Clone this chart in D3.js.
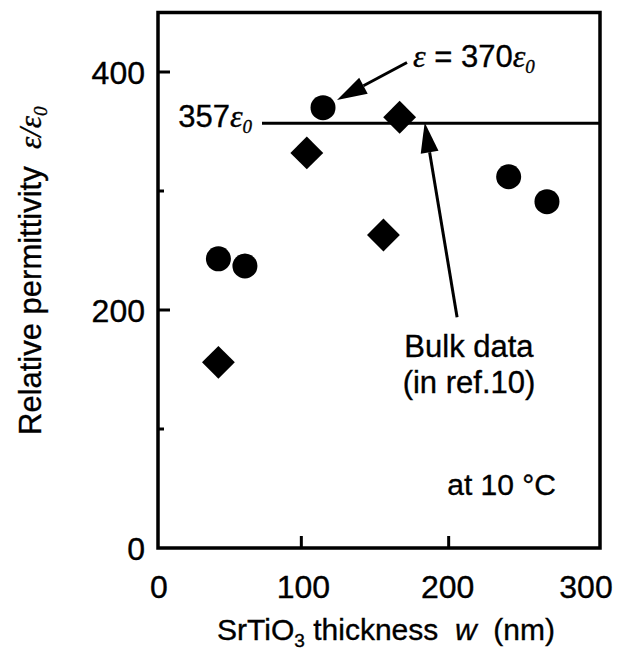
<!DOCTYPE html>
<html lang="en">
<head>
    <meta charset="UTF-8">
    <title>Relative permittivity vs SrTiO3 thickness</title>
    <script src="https://d3js.org/d3.v7.min.js"></script>
    <style>
        body {
            margin: 0;
            background: white;
            font-family: "Liberation Sans", Arial, sans-serif;
        }
        text { white-space: pre; stroke: black; stroke-width: 0.35px; }
        .eps { font-family: "Liberation Serif", serif; font-style: italic; }
    </style>
</head>
<body>
    <div id="chart"></div>
    <script>
        // data
        const circleW = [41, 59, 112, 238, 264];
        const circleEps = [243, 237, 370, 312, 291];
        const diamondW = [41, 101, 153, 164];
        const diamondEps = [156, 332, 263, 362];
        const bulkValue = 357;
        const xTicks = [0, 100, 200, 300];
        const yTicks = [0, 200, 400];
        const yMinorTicks = [100, 300];

        const width = 633, height = 657;
        const x = d3.scaleLinear().domain([0, 300]).range([158, 600]);
        const y = d3.scaleLinear().domain([0, 450]).range([548, 12.5]);

        const svg = d3.select("#chart").append("svg")
            .attr("width", width)
            .attr("height", height);

        // frame
        svg.append("rect")
            .attr("x", x(0)).attr("y", y(450))
            .attr("width", x(300) - x(0)).attr("height", y(0) - y(450))
            .attr("fill", "none").attr("stroke", "black").attr("stroke-width", 3.5);

        // ticks (inward)
        svg.selectAll(".xtick").data(xTicks.slice(1, 3)).enter().append("line")
            .attr("x1", d => x(d) - 4).attr("x2", d => x(d) - 4)
            .attr("y1", y(0)).attr("y2", y(0) - 12)
            .attr("stroke", "black").attr("stroke-width", 3);
        svg.selectAll(".ytick").data(yTicks.slice(1)).enter().append("line")
            .attr("x1", x(0)).attr("x2", x(0) + 12)
            .attr("y1", d => y(d)).attr("y2", d => y(d))
            .attr("stroke", "black").attr("stroke-width", 3);
        svg.selectAll(".ymtick").data(yMinorTicks).enter().append("line")
            .attr("x1", x(0)).attr("x2", x(0) + 6)
            .attr("y1", d => y(d)).attr("y2", d => y(d))
            .attr("stroke", "black").attr("stroke-width", 3);

        // tick labels
        const xNudge = { 0: 1, 100: -2, 200: -5, 300: -14 };
        svg.selectAll(".xlab").data(xTicks).enter().append("text")
            .attr("x", d => x(d) + xNudge[d])
            .attr("y", 598)
            .attr("text-anchor", "middle")
            .attr("font-size", 32)
            .text(d => d);
        svg.selectAll(".ylab").data(yTicks).enter().append("text")
            .attr("x", 145)
            .attr("y", d => y(d))
            .attr("dy", "0.36em")
            .attr("text-anchor", "end")
            .attr("font-size", 32)
            .text(d => d);

        // axis titles
        const xt = svg.append("text")
            .attr("x", 386).attr("y", 640)
            .attr("text-anchor", "middle")
            .attr("font-size", 30);
        xt.append("tspan").text("SrTiO");
        xt.append("tspan").attr("font-size", 19).attr("dy", 7).text("3");
        xt.append("tspan").attr("dy", -7).text(" thickness  ");
        xt.append("tspan").attr("font-style", "italic").text("w");
        xt.append("tspan").text("  (nm)");

        const yt = svg.append("text")
            .attr("transform", "translate(41,435) rotate(-90)")
            .attr("text-anchor", "start")
            .attr("font-size", 31);
        yt.append("tspan").text("Relative permittivity  ");
        yt.append("tspan").attr("class", "eps").attr("font-size", 31).text("ε/ε");
        yt.append("tspan").attr("class", "eps").attr("font-size", 19).attr("dy", 6).text("0");

        // bulk line
        svg.append("line")
            .attr("x1", 262).attr("x2", x(300))
            .attr("y1", y(bulkValue)).attr("y2", y(bulkValue))
            .attr("stroke", "black").attr("stroke-width", 3);
        const bl = svg.append("text")
            .attr("x", 252).attr("y", 127)
            .attr("text-anchor", "end")
            .attr("font-size", 31);
        bl.append("tspan").text("357");
        bl.append("tspan").attr("class", "eps").attr("font-size", 32).text("ε");
        bl.append("tspan").attr("class", "eps").attr("font-size", 19).attr("dy", 6).text("0");

        // markers
        svg.selectAll(".circ").data(circleW).enter().append("circle")
            .attr("cx", d => x(d))
            .attr("cy", (d, i) => y(circleEps[i]))
            .attr("r", 12.5)
            .attr("fill", "black");
        svg.selectAll(".dia").data(diamondW).enter().append("path")
            .attr("d", d3.symbol().type(d3.symbolSquare).size(540))
            .attr("transform", (d, i) => `translate(${x(d)},${y(diamondEps[i])}) rotate(45)`)
            .attr("fill", "black");

        // annotations
        const arrows = [
            { from: [169, 408], to: [121.5, 376.5] },
            { from: [203, 194], to: [181, 357.5] }
        ];
        arrows.forEach(a => {
            const x1 = x(a.from[0]), y1 = y(a.from[1]);
            const x2 = x(a.to[0]), y2 = y(a.to[1]);
            const ang = Math.atan2(y2 - y1, x2 - x1);
            const len = 30, hw = 9;
            const bx = x2 - len * Math.cos(ang), by = y2 - len * Math.sin(ang);
            svg.append("line")
                .attr("x1", x1).attr("y1", y1).attr("x2", bx).attr("y2", by)
                .attr("stroke", "black").attr("stroke-width", 3);
            const pts = [
                [x2, y2],
                [bx + hw * Math.sin(ang), by - hw * Math.cos(ang)],
                [bx - hw * Math.sin(ang), by + hw * Math.cos(ang)]
            ];
            svg.append("path").attr("d", d3.line()(pts) + "Z").attr("fill", "black");
        });

        const e1 = svg.append("text")
            .attr("x", 413).attr("y", 67)
            .attr("font-size", 31);
        e1.append("tspan").attr("class", "eps").attr("font-size", 32).text("ε");
        e1.append("tspan").text(" = 370");
        e1.append("tspan").attr("class", "eps").attr("font-size", 32).text("ε");
        e1.append("tspan").attr("class", "eps").attr("font-size", 19).attr("dy", 6).text("0");

        svg.append("text").attr("x", 469).attr("y", 357)
            .attr("text-anchor", "middle").attr("font-size", 31).text("Bulk data");
        svg.append("text").attr("x", 469).attr("y", 393)
            .attr("text-anchor", "middle").attr("font-size", 31).text("(in ref.10)");
        svg.append("text").attr("x", 556).attr("y", 495)
            .attr("text-anchor", "end").attr("font-size", 30).text("at 10 °C");
    </script>
</body>
</html>
